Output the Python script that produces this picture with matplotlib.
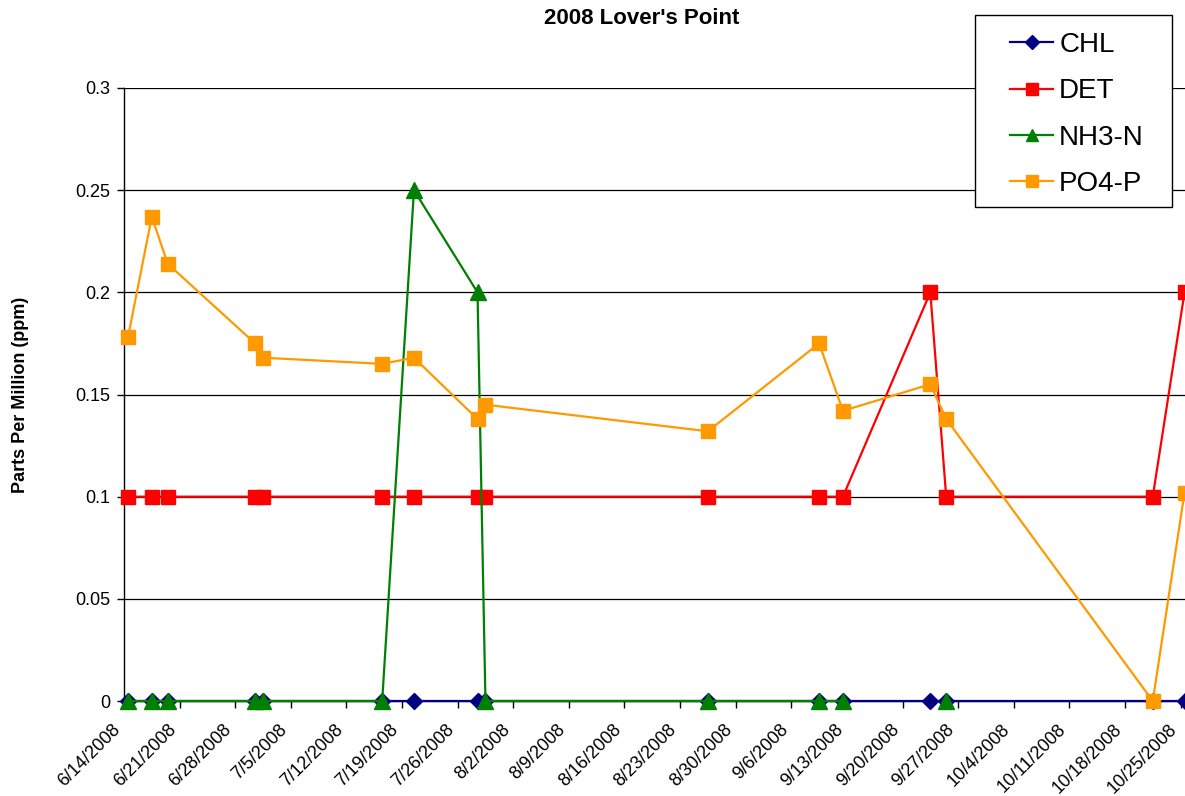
#
# 2008 Lover's Point nutrient plot
#
import numpy as np
import pandas as pd
import matplotlib
matplotlib.use('Agg')
from matplotlib import pyplot as plt
from matplotlib.patches import Rectangle
import matplotlib.transforms as mtrans

plt.rcParams['font.family'] = ['Liberation Sans', 'DejaVu Sans']

# ----------------------------------------------------
# Data (ppm), blank cells as nan
dates = ['2008-06-14', '2008-06-17', '2008-06-19', '2008-06-30', '2008-07-01',
         '2008-07-16', '2008-07-20', '2008-07-28', '2008-07-29', '2008-08-26',
         '2008-09-09', '2008-09-12', '2008-09-23', '2008-09-25', '2008-10-21',
         '2008-10-25']
chl = [0, 0, 0, 0, 0, 0, 0, 0, 0, 0, 0, 0, 0, 0, 0, 0]
det = [0.1, 0.1, 0.1, 0.1, 0.1, 0.1, 0.1, 0.1, 0.1, 0.1, 0.1, 0.1, 0.2, 0.1, 0.1, 0.2]
nh3 = [0, 0, 0, 0, 0, 0, 0.25, 0.2, 0, 0, 0, 0, np.nan, 0, np.nan, np.nan]
po4 = [0.178, 0.237, 0.214, 0.175, 0.168, 0.165, 0.168, 0.138, 0.145, 0.132,
       0.175, 0.142, 0.155, 0.138, 0.0, 0.102]
series_names = ['CHL', 'DET', 'NH3-N', 'PO4-P']
tick_dates = ['2008-06-14', '2008-06-21', '2008-06-28', '2008-07-05', '2008-07-12',
              '2008-07-19', '2008-07-26', '2008-08-02', '2008-08-09', '2008-08-16',
              '2008-08-23', '2008-08-30', '2008-09-06', '2008-09-13', '2008-09-20',
              '2008-09-27', '2008-10-04', '2008-10-11', '2008-10-18', '2008-10-25']
tick_labels = ['6/14/2008', '6/21/2008', '6/28/2008', '7/5/2008', '7/12/2008',
               '7/19/2008', '7/26/2008', '8/2/2008', '8/9/2008', '8/16/2008',
               '8/23/2008', '8/30/2008', '9/6/2008', '9/13/2008', '9/20/2008',
               '9/27/2008', '10/4/2008', '10/11/2008', '10/18/2008', '10/25/2008']
y_ticks = [0, 0.05, 0.1, 0.15, 0.2, 0.25, 0.3]
y_labels = ['0', '0.05', '0.1', '0.15', '0.2', '0.25', '0.3']
#
# Excel date axis puts each point in the middle of its day
xd = pd.to_datetime(dates) + pd.Timedelta(hours = 12)
xt = pd.to_datetime(tick_dates)
#
fig = plt.figure(figsize = (11.85, 7.96), dpi = 100)
ax = fig.add_axes([124 / 1185, 95 / 796, 1064.5 / 1185, 613 / 796])
#
ax.plot(xd, chl, color = '#000080', marker = 'D', ms = 8, lw = 1.6,
        label = series_names[0], zorder = 3)
ax.plot(xd, det, color = '#FF0000', marker = 's', ms = 10.5, lw = 1.6,
        label = series_names[1], zorder = 4)
ax.plot(xd, nh3, color = '#008000', marker = '^', ms = 11, lw = 1.6,
        label = series_names[2], zorder = 5)
ax.plot(xd, po4, color = '#FF9900', marker = 's', ms = 10.5, lw = 1.6,
        label = series_names[3], zorder = 6)
#
ax.set_xlim(pd.Timestamp('2008-06-14'), pd.Timestamp('2008-10-26'))
ax.set_ylim(0, 0.3)
ax.set_xticks(xt)
ax.set_xticklabels([])
# Rotated date labels, offset a bit left/down like the Excel original
shift = mtrans.ScaledTranslation(-12 / 100, -20 / 100, fig.dpi_scale_trans)
for td, lab in zip(xt, tick_labels):
    ax.text(td, 0, lab, transform = ax.get_xaxis_transform() + shift,
            rotation = 45, ha = 'right', va = 'top', rotation_mode = 'anchor',
            fontsize = 13, clip_on = False)
ax.set_yticks(y_ticks)
ax.set_yticklabels(y_labels, fontsize = 13)
ax.tick_params(axis = 'both', direction = 'out', length = 5, width = 1)
ax.tick_params(axis = 'y', pad = 5)
#
ax.grid(axis = 'y', color = 'black', lw = 0.9)
ax.set_axisbelow(True)
for s in ['top', 'right']:
    ax.spines[s].set_visible(False)
ax.spines['left'].set_linewidth(1)
ax.spines['bottom'].set_linewidth(1)
for m in ax.lines:
    m.set_clip_on(False)
#
ax.set_ylabel('Parts Per Million (ppm)', fontsize = 13, fontweight = 'bold',
              labelpad = 33)
fig.text(642 / 1185, 1 - 19 / 796, "2008 Lover's Point", fontsize = 16,
         fontweight = 'bold', ha = 'center', va = 'center')
#
# Legend box drawn by hand, entries placed inside it
box = Rectangle((975 / 1185, 1 - 207 / 796), 197 / 1185, 192 / 796,
                transform = fig.transFigure, facecolor = 'white',
                edgecolor = 'black', lw = 1, zorder = 2)
fig.patches.append(box)
leg = fig.legend(loc = 'upper left', bbox_to_anchor = (1010 / 1185, 1 - 32 / 796),
                 fontsize = 20, frameon = False, borderpad = 0,
                 labelspacing = 0.73, handlelength = 1.55,
                 handletextpad = 0.22, borderaxespad = 0, markerscale = 0.85)
#
fig.savefig('out.png', dpi = 100)
